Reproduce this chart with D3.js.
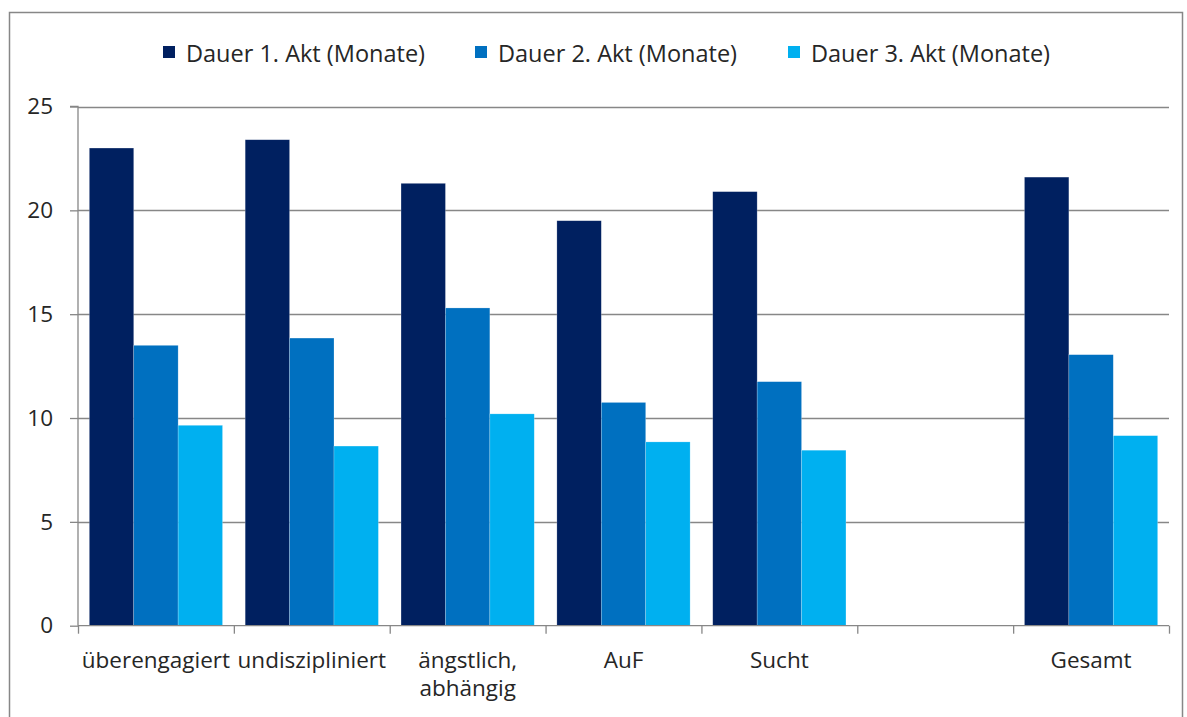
<!DOCTYPE html>
<html><head><meta charset="utf-8">
<script src="https://cdn.jsdelivr.net/npm/d3@7"></script>
<style>html,body{margin:0;padding:0;background:#fff;}svg{display:block;}</style>
</head><body>
<svg id="chart" width="1187" height="717"></svg>
<script>
const categories = ["überengagiert", "undiszipliniert", "ängstlich, abhängig", "AuF", "Sucht", "", "Gesamt"];
const seriesNames = ["Dauer 1. Akt (Monate)", "Dauer 2. Akt (Monate)", "Dauer 3. Akt (Monate)"];
const akt1 = [23.0, 23.4, 21.3, 19.5, 20.9, null, 21.6];
const akt2 = [13.5, 13.85, 15.3, 10.75, 11.75, null, 13.05];
const akt3 = [9.65, 8.65, 10.2, 8.85, 8.45, null, 9.15];
const yTicks = [0, 5, 10, 15, 20, 25];
const colors = ["#002060", "#0070C0", "#00B0F0"];
const values = [akt1, akt2, akt3];

(function () {
const FONT = "'Open Sans', 'Noto Sans', sans-serif";
const FS = 22.5;
const svg = d3.select("#chart");
svg.append("rect").attr("x", 9.5).attr("y", 12.5).attr("width", 1173).attr("height", 720)
  .attr("fill", "#fff").attr("stroke", "#878787").attr("stroke-width", 1.5);

const pLeft = 78, pRight = 1169, pTop = 106.5, pBottom = 625.7;
const x = d3.scaleBand().domain(d3.range(categories.length)).range([pLeft, pRight]).paddingInner(0).paddingOuter(0);
const y = d3.scaleLinear().domain([0, 25]).range([pBottom, pTop]);
const inner = d3.scaleBand().domain([0,1,2]).range([0, x.bandwidth()]).paddingOuter(0.255).paddingInner(0);

// gridlines
svg.append("g").selectAll("line").data(yTicks.filter(t => t > 0)).join("line")
  .attr("x1", pLeft).attr("x2", pRight).attr("y1", d => Math.round(y(d)) + 0.5).attr("y2", d => Math.round(y(d)) + 0.5)
  .attr("stroke", "#878787").attr("stroke-width", 1.3);

// bars
values.forEach((vals, s) => {
  svg.append("g").selectAll("rect").data(vals.map((v, i) => ({v, i})).filter(d => d.v != null)).join("rect")
    .attr("x", d => x(d.i) + inner(s)).attr("width", inner.bandwidth())
    .attr("y", d => y(d.v)).attr("height", d => y(0) - y(d.v))
    .attr("fill", colors[s]).attr("stroke", "rgba(255,255,255,0.35)").attr("stroke-width", 0.6);
});

// y axis
const yAxis = d3.axisLeft(y).tickValues(yTicks).tickSize(8).tickPadding(17).tickFormat(d3.format("d"));
const gy = svg.append("g").attr("transform", `translate(${pLeft},0)`).call(yAxis);
gy.select(".domain").attr("stroke", "#878787").attr("stroke-width", 1.3).attr("d", `M-8,${pTop}H0V${pBottom}`);
gy.selectAll(".tick line").attr("stroke", "#878787").attr("stroke-width", 1.3);
gy.selectAll("text").attr("font-family", FONT).attr("font-size", FS).attr("fill", "#262626");

// x axis line and ticks
const xb = d3.scaleLinear().domain([0, categories.length]).range([pLeft, pRight]);
const gx = svg.append("g").attr("transform", `translate(0,${pBottom})`)
  .call(d3.axisBottom(xb).tickValues(d3.range(categories.length + 1)).tickSize(8).tickFormat(""));
gx.select(".domain").attr("stroke", "#878787").attr("stroke-width", 1.3).attr("d", `M${pLeft},0H${pRight}`);
gx.selectAll(".tick line").attr("stroke", "#878787").attr("stroke-width", 1.3);

// category labels
const labelLines = {"ängstlich, abhängig": ["ängstlich,", "abhängig"]};
categories.forEach((c, i) => {
  if (!c) return;
  const lines = labelLines[c] || [c];
  const t = svg.append("text").attr("x", x(i) + x.bandwidth() / 2).attr("y", 668)
    .attr("text-anchor", "middle").attr("font-family", FONT).attr("font-size", FS).attr("fill", "#262626");
  lines.forEach((l, k) => t.append("tspan").attr("x", x(i) + x.bandwidth() / 2).attr("dy", k === 0 ? 0 : 28).text(l));
});

// legend
const legendX = [163, 475, 788];
seriesNames.forEach((n, s) => {
  svg.append("rect").attr("x", legendX[s]).attr("y", 46).attr("width", 12).attr("height", 12).attr("fill", colors[s]);
  svg.append("text").attr("x", legendX[s] + 23).attr("y", 61.5).attr("font-family", FONT).attr("font-size", 23.5)
    .attr("fill", "#262626").text(n);
});
})();
</script>
</body></html>
